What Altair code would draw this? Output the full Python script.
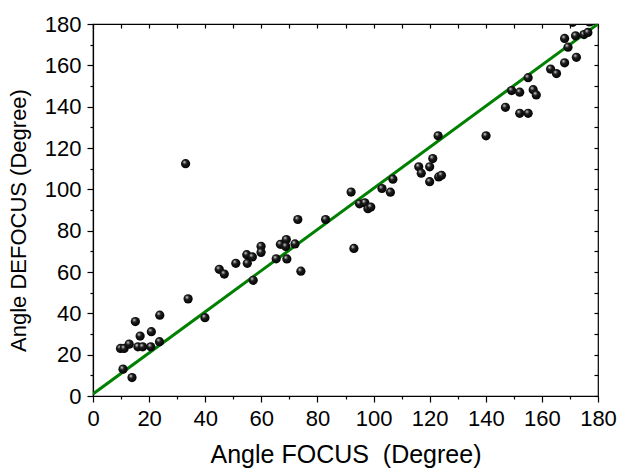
import altair as alt
import pandas as pd

# Data
angle_focus = [9.8, 11.1, 12.9, 15.1, 16.8, 16.0, 17.7, 20.8, 20.6, 23.8, 23.7, 10.7, 13.9,
               33.9, 33.0, 39.9, 45.0, 46.8, 50.9, 55.0, 54.8, 56.8, 57.1, 59.9, 59.9,
               65.3, 66.8, 68.9, 68.7, 69.1, 72.0, 73.0, 74.1, 82.9, 92.0, 93.0, 95.0,
               96.9, 98.0, 99.0, 103.0, 106.0, 106.9, 116.1, 117.0, 120.0, 121.1, 120.0,
               123.2, 124.2, 123.0, 140.1, 147.0, 149.2, 152.1, 152.1, 155.1, 155.1,
               156.9, 158.0, 163.1, 165.2, 168.1, 172.3, 169.3, 168.1, 172.0, 175.0,
               176.4, 171.0, 177.0]
angle_defocus = [23.0, 23.0, 25.1, 36.0, 29.0, 23.8, 23.8, 31.1, 23.8, 39.1, 26.3, 13.0, 8.9,
                 47.0, 112.4, 37.9, 61.3, 59.0, 64.2, 64.2, 68.4, 67.3, 56.0, 72.4, 69.5,
                 66.4, 73.4, 75.7, 72.4, 66.3, 73.6, 85.4, 60.4, 85.4, 98.7, 71.4, 93.0,
                 93.5, 90.6, 91.4, 100.4, 98.6, 104.9, 110.9, 107.8, 110.9, 114.9, 103.7,
                 106.0, 106.8, 125.9, 125.9, 139.7, 147.8, 147.0, 136.8, 136.8, 154.0,
                 148.2, 145.7, 158.2, 156.0, 161.2, 163.9, 168.8, 173.0, 174.3, 174.9,
                 175.9, 180.8, 181.0]
fit_x = [0, 180]
fit_y = [1, 180]

major_ticks = [0, 20, 40, 60, 80, 100, 120, 140, 160, 180]
minor_ticks = [10, 30, 50, 70, 90, 110, 130, 150, 170]
all_ticks = list(range(0, 181, 10))

pts = pd.DataFrame({"x": angle_focus, "y": angle_defocus})
fit = pd.DataFrame({"x": fit_x, "y": fit_y})

W, H = 505, 372
FONT = "Liberation Sans"
FS = 22
xs = alt.Scale(domain=[0, 180], nice=False, zero=False)
ys = alt.Scale(domain=[0, 180], nice=False, zero=False)

base_axis = dict(grid=False, tickColor="black", labelColor="black", titleColor="black",
                 labelFont=FONT, titleFont=FONT, labelFontSize=FS,
                 titleFontWeight="normal", tickWidth=1.2, labelFlush=False,
                 labelOverlap=False, labelBound=False)


def tick_axis(orient, values, size, offset=0):
    return alt.Axis(orient=orient, values=values, tickSize=size, offset=offset,
                    labels=False, domain=False, title=None, **base_axis)


# Fit line, carrying the minor ticks (left/bottom)
line = alt.Chart(fit).mark_line(color="#008000", strokeWidth=3, clip=True).encode(
    x=alt.X("x:Q", scale=xs, axis=tick_axis("bottom", minor_ticks, 3)),
    y=alt.Y("y:Q", scale=ys, axis=tick_axis("left", minor_ticks, 3)),
)

# Invisible layer carrying the inward ticks on top and right
frame = alt.Chart(fit).mark_line(strokeOpacity=0).encode(
    x=alt.X("x:Q", scale=xs, axis=tick_axis("bottom", all_ticks, 4, offset=-H)),
    y=alt.Y("y:Q", scale=ys, axis=tick_axis("left", all_ticks, 4, offset=-W)),
)

ball = alt.Gradient(
    gradient="radial",
    x1=0.36, y1=0.3, r1=0.0,
    x2=0.45, y2=0.45, r2=0.6,
    stops=[alt.GradientStop(color="#ffffff", offset=0.0),
           alt.GradientStop(color="#a0a0a0", offset=0.12),
           alt.GradientStop(color="#1c1c1c", offset=0.38),
           alt.GradientStop(color="#000000", offset=1.0)],
)

points = alt.Chart(pts).mark_circle(size=85, opacity=1, fill=ball, clip=True).encode(
    x=alt.X("x:Q", scale=xs, axis=alt.Axis(orient="bottom", values=major_ticks, tickSize=6,
                                           labelPadding=6, titlePadding=13, domainColor="black",
                                           domainWidth=1.2, titleFontSize=25,
                                           title="Angle FOCUS\u00a0 (Degree)", **base_axis)),
    y=alt.Y("y:Q", scale=ys, axis=alt.Axis(orient="left", values=major_ticks, tickSize=6,
                                           labelPadding=6, titlePadding=14, domainColor="black",
                                           domainWidth=1.2, titleFontSize=22, titleY=196,
                                           title="Angle DEFOCUS (Degree)", **base_axis)),
)

chart = alt.layer(line, frame, points).resolve_axis(
    x="independent", y="independent"
).properties(
    width=W, height=H,
    autosize=alt.AutoSizeParams(type="none"),
    padding={"left": 93, "top": 24, "right": 20, "bottom": 74},
    background="white",
).configure_view(stroke="black", strokeWidth=1.2)

chart.save("out.html", embed_options={"renderer": "svg", "actions": False})
